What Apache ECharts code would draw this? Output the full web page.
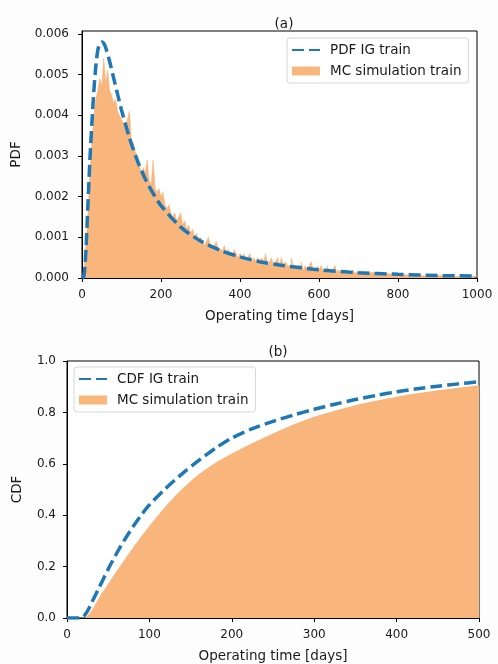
<!DOCTYPE html>
<html>
<head>
<meta charset="utf-8">
<title>IG train</title>
<script src="https://cdn.jsdelivr.net/npm/echarts@6/dist/echarts.min.js"></script>
<style>
  html, body { margin: 0; background: #fdfdfd; }
  #main { width: 498px; height: 664px; }
</style>
</head>
<body>
<div id="main"></div>
<script>
// (a) PDF, inverse Gaussian fit
var pdfX = [0, 5, 10, 15, 20, 25, 30, 35, 40, 45, 50, 55, 60, 70, 80, 90, 100, 120, 140, 160, 180, 200,
            250, 300, 350, 400, 450, 500, 600, 700, 800, 900, 1000];
var pdfY = [0, 0.00005, 0.0007, 0.0018, 0.0029, 0.0038, 0.0046, 0.0052, 0.0056, 0.00575, 0.0058, 0.00577, 0.00566,
            0.00532, 0.00492, 0.00452, 0.00413, 0.00345, 0.00289, 0.00244, 0.00208, 0.00178,
            0.00125, 0.00091, 0.00068, 0.00052, 0.0004, 0.00032, 0.0002, 0.00013, 0.00009, 0.00006, 0.00005];

// (a) MC histogram, 5-day bins from 0 to 1000
var binWidth = 5;
var histPdf = [
  0, 0.0002, 0.0008, 0.0016, 0.0026, 0.0033, 0.0040, 0.0044, 0.0046, 0.0049,
  0.0047, 0.0054, 0.0048, 0.0051, 0.0046, 0.0045, 0.0043, 0.0044, 0.0041, 0.0040,
  0.0039, 0.0038, 0.0036, 0.0039, 0.0041, 0.0034, 0.0033, 0.0031, 0.0030, 0.0028,
  0.0026, 0.0027, 0.0026, 0.0029, 0.0024, 0.0023, 0.0029, 0.0022, 0.0021, 0.0022,
  0.0020, 0.0021, 0.0018, 0.0017, 0.0018, 0.0016, 0.0015, 0.0016, 0.0014, 0.0015,
  0.0016, 0.0013, 0.0014, 0.0012, 0.0013, 0.0011, 0.0012, 0.0010, 0.0011, 0.0009,
  0.0010, 0.0009, 0.0008, 0.0009, 0.0010, 0.0008, 0.0007, 0.0008, 0.0009, 0.0007,
  0.0007, 0.0006, 0.0008, 0.0006, 0.0007, 0.0006, 0.0005, 0.0007, 0.0006, 0.0005,
  0.0006, 0.0005, 0.0006, 0.0004, 0.0005, 0.0006, 0.0004, 0.0005, 0.0004, 0.0005,
  0.0004, 0.0005, 0.0004, 0.0006, 0.0003, 0.0004, 0.0005, 0.0003, 0.0004, 0.0005,
  0.0003, 0.0005, 0.0003, 0.0004, 0.0003, 0.0003, 0.0005, 0.0003, 0.0002, 0.0003,
  0.0003, 0.0004, 0.0002, 0.0003, 0.0002, 0.0003, 0.0004, 0.0002, 0.0002, 0.0003,
  0.0002, 0.0003, 0.0002, 0.0002, 0.0003, 0.0002, 0.00015, 0.0002, 0.0003, 0.00015,
  0.0002, 0.00015, 0.0002, 0.00015, 0.0002, 0.00012, 0.00015, 0.0002, 0.00012, 0.00015,
  0.00012, 0.00015, 0.0001, 0.00012, 0.0001, 0.00012, 0.0001, 0.00015, 0.0001, 0.0001,
  0.0001, 0.00008, 0.0001, 0.00012, 0.00008, 0.0001, 0.00008, 0.0001, 0.00006, 0.0001,
  0.00008, 0.0001, 0.00006, 0.00008, 0.0001, 0.00006, 0.00008, 0.00006, 0.00008, 0.00006,
  0.00008, 0.00006, 0.00007, 0.00005, 0.00008, 0.00006, 0.00005, 0.00007, 0.00005, 0.00006,
  0.00005, 0.00006, 0.00004, 0.00006, 0.00005, 0.00004, 0.00006, 0.00004, 0.00005, 0.00004,
  0.00005, 0.00004, 0.00005, 0.00003, 0.00004, 0.00005, 0.00003, 0.00004, 0.00003, 0.00004
];

// (b) CDF, inverse Gaussian fit
var cdfX = [0, 15, 20, 25, 30, 40, 50, 60, 70, 80, 90, 100, 120, 140, 160, 180, 200, 225, 250, 275,
            300, 325, 350, 375, 400, 425, 450, 475, 500];
var cdfY = [0, 0, 0.006, 0.028, 0.06, 0.125, 0.19, 0.25, 0.305, 0.355, 0.40, 0.44, 0.505, 0.562, 0.613,
            0.66, 0.70, 0.737, 0.765, 0.79, 0.812, 0.832, 0.85, 0.866, 0.88, 0.892, 0.902, 0.911, 0.919];

// (b) MC empirical CDF
var mcX = [0, 20, 25, 30, 40, 50, 60, 70, 80, 90, 100, 110, 120, 130, 140, 150, 160, 180, 200,
           225, 250, 275, 300, 350, 400, 450, 500];
var mcY = [0, 0, 0.01, 0.03, 0.085, 0.133, 0.182, 0.228, 0.273, 0.317, 0.358, 0.398, 0.436, 0.471, 0.503,
           0.532, 0.559, 0.603, 0.64, 0.681, 0.718, 0.753, 0.783, 0.828, 0.861, 0.886, 0.906];

var pdfTicks = [0, 0.001, 0.002, 0.003, 0.004, 0.005, 0.006];

var BLUE = '#1f77b4';
var ORANGE = '#f8b67d';
var FONT = 'DejaVu Sans';
var TXT = '#1a1a1a';

function zip(xs, ys) {
  return xs.map(function (x, i) { return [x, ys[i]]; });
}

var histData = histPdf.map(function (v, i) { return [i * binWidth, v]; });
histData.push([histPdf.length * binWidth, histPdf[histPdf.length - 1]]);

var axisCommon = {
  type: 'value',
  axisLine: { onZero: false, lineStyle: { color: '#000', width: 1 } },
  axisTick: { length: 4, lineStyle: { color: '#000' } },
  splitLine: { show: false },
  axisLabel: { fontSize: 12, color: TXT, fontFamily: FONT },
  nameTextStyle: { fontSize: 13.5, color: TXT, fontFamily: FONT },
  nameLocation: 'middle'
};
function ax(extra) {
  var o = JSON.parse(JSON.stringify(axisCommon));
  for (var k in extra) {
    if (typeof extra[k] === 'object' && o[k] && !Array.isArray(extra[k])) {
      for (var j in extra[k]) o[k][j] = extra[k][j];
    } else o[k] = extra[k];
  }
  return o;
}

var legendCommon = {
  orient: 'vertical',
  itemWidth: 28, itemHeight: 9, itemGap: 7,
  padding: [5, 7, 5, 4],
  backgroundColor: 'rgba(255,255,255,0.8)', borderColor: '#d6d6d6', borderWidth: 1, borderRadius: 3,
  textStyle: { fontSize: 13.5, color: TXT, fontFamily: FONT, padding: [0, 0, 0, 5] }
};
function lg(extra) {
  var o = JSON.parse(JSON.stringify(legendCommon));
  for (var k in extra) o[k] = extra[k];
  return o;
}

var myChart = echarts.init(document.getElementById('main'));
var option = {
  backgroundColor: '#fdfdfd',
  animation: false,
  title: [
    { text: '(a)', left: 279, top: 12, textAlign: 'center',
      textStyle: { fontSize: 13.5, fontWeight: 'normal', color: TXT, fontFamily: FONT } },
    { text: '(b)', left: 273, top: 340, textAlign: 'center',
      textStyle: { fontSize: 13.5, fontWeight: 'normal', color: TXT, fontFamily: FONT } }
  ],
  grid: [
    { left: 82, top: 31, width: 395, height: 247, show: true, borderColor: '#000', borderWidth: 1, backgroundColor: '#fff' },
    { left: 67, top: 361, width: 412, height: 257, show: true, borderColor: '#000', borderWidth: 1, backgroundColor: '#fff' }
  ],
  legend: [
    lg({ left: 287, top: 38,
         data: [{ name: 'PDF IG train', itemStyle: { opacity: 0 } }, { name: 'MC simulation train', icon: 'rect' }] }),
    lg({ left: 74, top: 367,
         data: [{ name: 'CDF IG train', itemStyle: { opacity: 0 } }, { name: 'MC simulation train', icon: 'rect' }] })
  ],
  xAxis: [
    ax({ gridIndex: 0, min: 0, max: 1000, interval: 200, name: 'Operating time [days]', nameGap: 31,
         axisLabel: { margin: 11, formatter: function (v) { return String(v); } } }),
    ax({ gridIndex: 1, min: 0, max: 500, interval: 100, name: 'Operating time [days]', nameGap: 31,
         axisLabel: { margin: 11, formatter: function (v) { return String(v); } } })
  ],
  yAxis: [
    ax({ gridIndex: 0, min: 0, max: 0.00607, name: 'PDF', nameGap: 58,
         axisTick: { customValues: pdfTicks },
         axisLabel: { customValues: pdfTicks, margin: 13, formatter: function (v) { return v.toFixed(3); } } }),
    ax({ gridIndex: 1, min: 0, max: 1, interval: 0.2, name: 'CDF', nameGap: 43,
         axisLabel: { margin: 11, formatter: function (v) { return v.toFixed(1); } } })
  ],
  series: [
    {
      name: 'MC simulation train', type: 'line', xAxisIndex: 0, yAxisIndex: 0,
      step: 'end', symbol: 'none', color: ORANGE,
      lineStyle: { width: 0.6, color: ORANGE },
      areaStyle: { color: ORANGE, opacity: 1 },
      data: histData, z: 2
    },
    {
      name: 'PDF IG train', type: 'line', xAxisIndex: 0, yAxisIndex: 0,
      smooth: 0.3, symbol: 'none', color: BLUE,
      lineStyle: { color: BLUE, width: 3.5, type: [12, 5] },
      data: zip(pdfX, pdfY), z: 3
    },
    {
      name: 'MC simulation train', type: 'line', xAxisIndex: 1, yAxisIndex: 1,
      smooth: 0.3, symbol: 'none', color: ORANGE,
      lineStyle: { width: 0, color: ORANGE },
      areaStyle: { color: ORANGE, opacity: 1 },
      data: zip(mcX, mcY), z: 2
    },
    {
      name: 'CDF IG train', type: 'line', xAxisIndex: 1, yAxisIndex: 1,
      smooth: 0.3, symbol: 'none', color: BLUE,
      lineStyle: { color: BLUE, width: 3.5, type: [12, 5] },
      data: zip(cdfX, cdfY), z: 3
    }
  ]
};
myChart.setOption(option);
</script>
</body>
</html>
